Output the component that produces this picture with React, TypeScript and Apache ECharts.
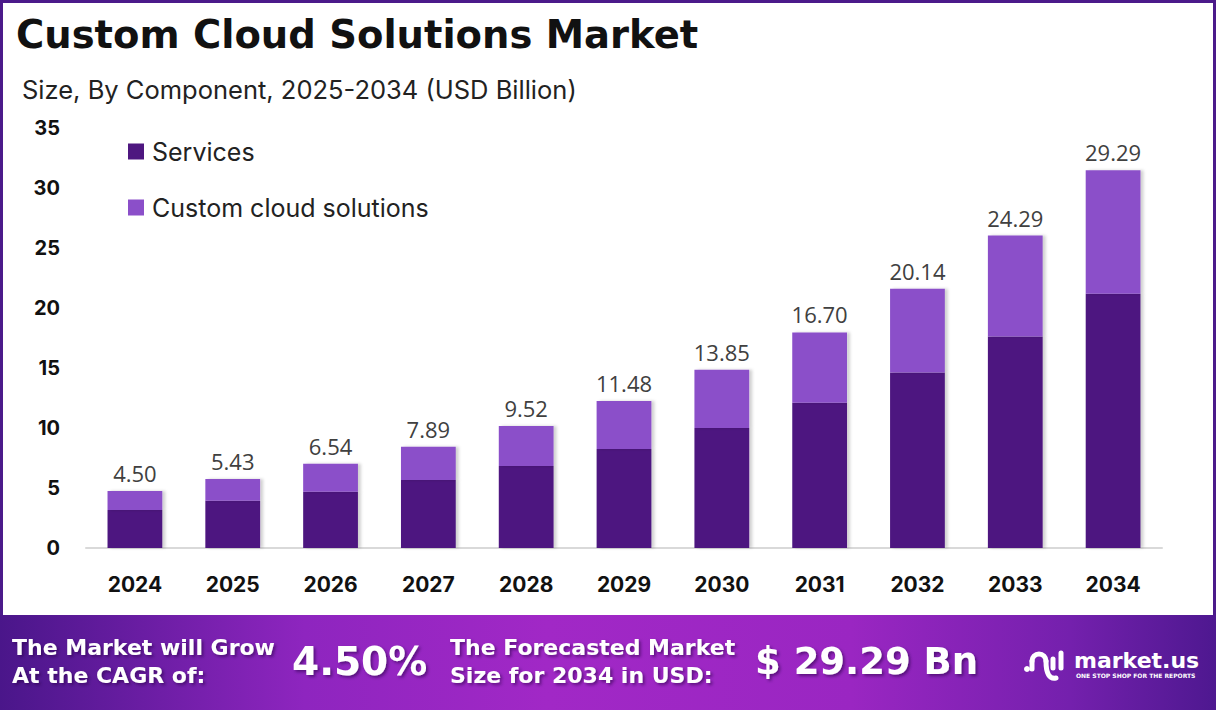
import React, { useEffect, useRef } from "react";
import * as echarts from "echarts";

const years = ["2024", "2025", "2026", "2027", "2028", "2029", "2030", "2031", "2032", "2033", "2034"];
const services = [3.17, 3.93, 4.68, 5.66, 6.83, 8.25, 10.0, 12.11, 14.62, 17.63, 21.19];
const customCloud = [1.57, 1.81, 2.34, 2.78, 3.34, 4.01, 4.85, 5.85, 6.99, 8.41, 10.28];
const totalLabels = ["4.50", "5.43", "6.54", "7.89", "9.52", "11.48", "13.85", "16.70", "20.14", "24.29", "29.29"];
const seriesNames = ["Services", "Custom cloud solutions"];
const titleText = "Custom Cloud Solutions Market";
const subtitleText = "Size, By Component, 2025-2034 (USD Billion)";
const cagrText = "4.50%";
const forecastText = "$ 29.29 Bn";

const DARK = "#4e1780";
const LIGHT = "#8b4fc9";
const BORDER = "#4b1a8a";

export default function App() {
  const ref = useRef<HTMLDivElement>(null);
  useEffect(() => {
    if (!ref.current) return;
    const chart = echarts.init(ref.current, null, { renderer: "svg" });
    const white = "#ffffff";
    const bannerShadow = { textShadowColor: "rgba(40,0,70,0.55)", textShadowBlur: 3, textShadowOffsetX: 2, textShadowOffsetY: 2 };
    const bannerText = (x: number, y: number, text: string, size: number, extra: any = {}) => ({
      type: "text",
      x,
      y,
      z: 10,
      style: {
        text,
        fill: white,
        font: `bold ${size}px "DejaVu Sans"`,
        verticalAlign: "middle",
        align: "left",
        ...bannerShadow,
        ...extra,
      },
    });
    const option: any = {
      animation: false,
      backgroundColor: "#ffffff",
      grid: { left: 86, right: 54, top: 128, bottom: 162, containLabel: false },
      legend: {
        data: seriesNames,
        orient: "vertical",
        left: 128,
        top: 139,
        padding: 0,
        itemWidth: 16,
        itemHeight: 16,
        itemGap: 31,
        icon: "rect",
        textStyle: { fontSize: 25, color: "#222222", fontFamily: "Inter", padding: [0, 0, 0, 3] },
      },
      xAxis: {
        type: "category",
        data: years,
        axisLine: { show: true, lineStyle: { color: "#d9d9d9", width: 2 } },
        axisTick: { show: false },
        axisLabel: { fontSize: 21, fontWeight: "bold", color: "#111111", fontFamily: "Inter", margin: 26 },
      },
      yAxis: {
        type: "value",
        min: 0,
        max: 35,
        interval: 5,
        axisLine: { show: false },
        axisTick: { show: false },
        splitLine: { show: false },
        axisLabel: { fontSize: 20, fontWeight: "bold", color: "#111111", fontFamily: "Inter", margin: 26 },
      },
      series: [
        {
          name: seriesNames[0],
          type: "bar",
          stack: "total",
          data: services,
          barWidth: "56%",
          itemStyle: { color: DARK, shadowColor: "rgba(0,0,0,0.18)", shadowBlur: 3, shadowOffsetX: 3 },
        },
        {
          name: seriesNames[1],
          type: "bar",
          stack: "total",
          data: customCloud,
          barWidth: "56%",
          itemStyle: { color: LIGHT, shadowColor: "rgba(0,0,0,0.18)", shadowBlur: 3, shadowOffsetX: 3 },
          label: {
            show: true,
            position: "top",
            distance: 7,
            formatter: (p: any) => totalLabels[p.dataIndex],
            fontSize: 22,
            color: "#404040",
            fontFamily: "Open Sans",
          },
        },
      ],
      graphic: [
        { type: "rect", z: -1, shape: { x: 0, y: 0, width: 1216, height: 3 }, style: { fill: BORDER } },
        { type: "rect", z: -1, shape: { x: 0, y: 0, width: 3, height: 615 }, style: { fill: BORDER } },
        { type: "rect", z: -1, shape: { x: 1213, y: 0, width: 3, height: 615 }, style: { fill: BORDER } },
        {
          type: "text",
          x: 16,
          y: 34,
          style: { text: titleText, fill: "#111111", font: 'bold 38.5px "DejaVu Sans"', verticalAlign: "middle" },
        },
        {
          type: "text",
          x: 22,
          y: 89,
          style: { text: subtitleText, fill: "#222222", font: '25.5px "Inter"', verticalAlign: "middle" },
        },
        {
          type: "rect",
          z: 1,
          shape: { x: 0, y: 615, width: 1216, height: 95 },
          style: {
            fill: new echarts.graphic.LinearGradient(0, 0, 1, 0, [
              { offset: 0, color: "#4a168a" },
              { offset: 0.25, color: "#8e25bf" },
              { offset: 0.45, color: "#a128c6" },
              { offset: 0.7, color: "#9a26c2" },
              { offset: 0.88, color: "#7420ad" },
              { offset: 1, color: "#4e1890" },
            ]),
          },
        },
        bannerText(12, 647, "The Market will Grow", 22),
        bannerText(12, 675, "At the CAGR of:", 22),
        bannerText(292, 661, cagrText, 39),
        bannerText(450, 647, "The Forecasted Market", 22),
        bannerText(450, 675, "Size for 2034 in USD:", 22),
        bannerText(755, 661, forecastText, 37),
        // logo icon
        { type: "circle", z: 10, shape: { cx: 1027, cy: 669, r: 3 }, style: { fill: white } },
        {
          type: "arc",
          z: 10,
          shape: { cx: 1039, cy: 661, r: 7, startAngle: Math.PI, endAngle: Math.PI * 2 },
          style: { stroke: white, lineWidth: 5, fill: "none", lineCap: "round" },
        },
        { type: "line", z: 10, shape: { x1: 1032, y1: 661, x2: 1032, y2: 669 }, style: { stroke: white, lineWidth: 5, lineCap: "round" } },
        {
          type: "bezierCurve",
          z: 10,
          shape: { x1: 1046, y1: 661, cpx1: 1046, cpy1: 680, x2: 1056, y2: 678 },
          style: { stroke: white, lineWidth: 5, fill: "none", lineCap: "round" },
        },
        { type: "line", z: 10, shape: { x1: 1053, y1: 659, x2: 1053, y2: 668 }, style: { stroke: white, lineWidth: 5, lineCap: "round" } },
        { type: "line", z: 10, shape: { x1: 1061, y1: 653, x2: 1061, y2: 668 }, style: { stroke: white, lineWidth: 5, lineCap: "round" } },
        {
          type: "text",
          x: 1074,
          y: 660,
          z: 10,
          style: { text: "market.us", fill: white, font: 'bold 22px "DejaVu Sans"', verticalAlign: "middle" },
        },
        {
          type: "text",
          x: 1076,
          y: 675,
          z: 10,
          style: { text: "ONE STOP SHOP FOR THE REPORTS", fill: white, font: 'bold 6px "DejaVu Sans"', verticalAlign: "middle" },
        },
      ],
    };
    chart.setOption(option);
    return () => chart.dispose();
  }, []);
  return (
    <div
      ref={ref}
      style={{ position: "fixed", left: 0, top: 0, width: 1216, height: 710, background: "#ffffff" }}
    />
  );
}
